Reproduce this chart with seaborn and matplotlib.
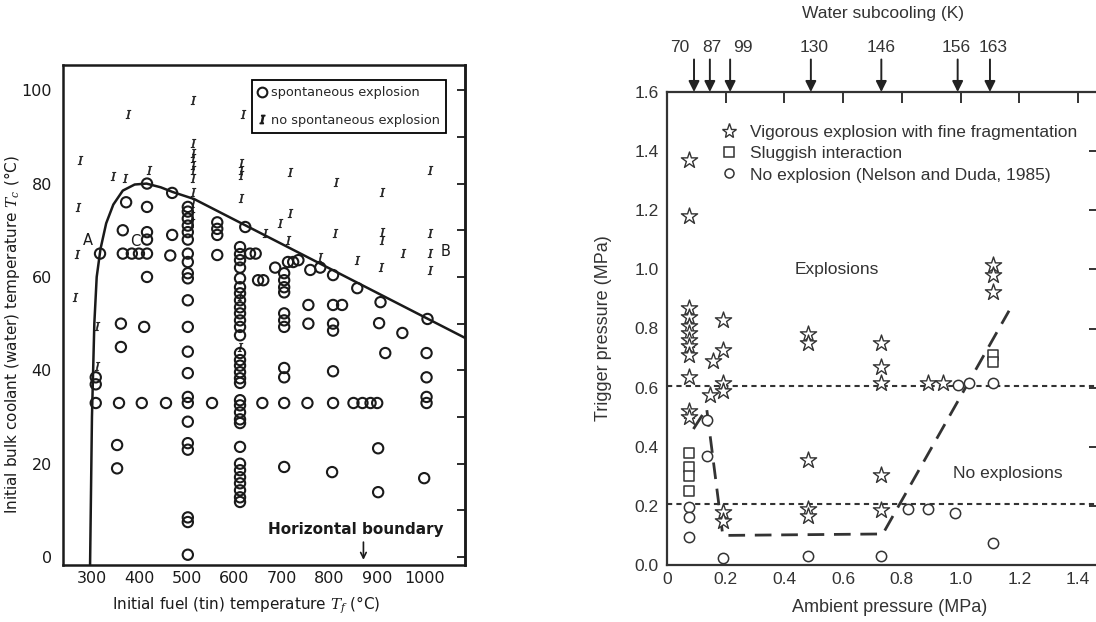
import matplotlib
matplotlib.use("Agg")
import matplotlib.pyplot as plt
import pandas as pd
import seaborn as sns

# ---------------- Left panel: tin drops into water ----------------
# spontaneous explosion (open circles): fuel temperature, coolant temperature
expl_fuel = ([317, 308, 308, 308]
             + [372, 365, 365, 384, 399, 361, 361, 357, 353, 353]
             + [416, 416, 416, 416, 416, 416, 410, 405]
             + [469, 469, 465, 456]
             + [502] * 22
             + [564, 564, 564, 564, 553]
             + [612] * 32 + [623]
             + [633, 645, 650, 661, 686, 659]
             + [713, 724, 735] + [705] * 11
             + [760, 756, 756, 754, 781]
             + [808, 808, 827, 808, 808, 808, 808, 806]
             + [859, 851, 870, 887, 901]
             + [908, 905, 918, 903, 903, 954]
             + [1007, 1005, 1005, 1005, 1005, 1000])
expl_cool = ([65, 38.5, 37, 33]
             + [76, 70, 65, 65, 65, 50, 45, 33, 24, 19]
             + [80, 75, 69.6, 68, 65, 60, 49.3, 33]
             + [78, 69, 64.6, 33]
             + [75, 74, 72.5, 71, 69.6, 68, 65, 63.2, 60.8, 59.7, 55, 49.3, 44, 39.4,
                34.3, 33, 29, 24.4, 23, 8.5, 7.5, 0.5]
             + [71.7, 70.3, 69, 64.7, 33]
             + [66.4, 64.9, 63.6, 62, 59.7, 57.8, 56.5, 55, 53.5, 52.2, 50.7, 49.3, 47.5, 43.7,
                42.2, 41, 39.6, 38.3, 37.3, 33.6, 32.5, 31, 29.5, 28.7, 23.6, 20, 18.6, 17.1,
                15.8, 14.3, 12.8, 11.8] + [70.7]
             + [65, 65, 59.3, 59.3, 62, 33]
             + [63.2, 63.2, 63.6, 60.8, 59.3, 57.8, 56.7, 52.2, 50.7, 49.3, 40.5, 38.5, 33, 19.3]
             + [61.5, 54, 50, 33, 62]
             + [60.4, 54, 54, 50, 48.5, 39.8, 33, 18.2]
             + [57.6, 33, 33, 33, 33]
             + [54.6, 50.1, 43.7, 23.3, 13.9, 48]
             + [51, 43.7, 38.5, 34.3, 33, 16.9])

# no spontaneous explosion
quiet_fuel = [275, 270, 268, 264, 310, 310, 376, 344, 370, 420,
              513, 513, 513, 513, 513, 513, 513, 513, 513, 510, 510,
              619, 614, 614, 614, 614, 612, 612,
              718, 815, 912, 1013, 718, 697, 665, 713, 813, 912, 912, 956,
              1013, 1013, 1013, 859, 908, 781]
quiet_cool = [85, 75, 65, 55.7, 49.5, 41, 95, 81.6, 81.2, 83,
              98, 88.6, 86.5, 85.4, 84, 82.9, 81.2, 78.2, 75.8, 73, 71.5,
              95, 84.4, 83, 81.8, 77, 56, 45,
              82.4, 80.3, 78.2, 82.9, 73.7, 71.5, 69.4, 67.9, 69.4, 69.6, 67.9, 65.1,
              69.4, 65.1, 61.5, 63.6, 62.1, 64.2]

# explosion boundary
bound_fuel = [296, 300, 305, 310, 318, 330, 345, 365, 390, 415, 445, 470, 515, 1085]
bound_cool = [-2, 30, 50, 60, 66, 71.5, 75.5, 78.5, 79.8, 80, 79.2, 78.2, 76.7, 47]

fuel_ticks = [300, 400, 500, 600, 700, 800, 900, 1000]
cool_ticks = [0, 20, 40, 60, 80, 100]

# ---------------- Right panel: trigger vs ambient pressure ----------------
star_p = [0.075] * 12 + [0.155, 0.145] + [0.19] * 6 + [0.48] * 5 + [0.73] * 5 + [0.89, 0.94] + [1.11] * 3
star_t = [1.37, 1.18, 0.87, 0.84, 0.81, 0.785, 0.76, 0.74, 0.71, 0.635, 0.52, 0.50,
          0.69, 0.575,
          0.83, 0.727, 0.615, 0.59, 0.18, 0.15,
          0.78, 0.75, 0.355, 0.19, 0.165,
          0.75, 0.67, 0.615, 0.305, 0.185,
          0.615, 0.615,
          1.015, 0.98, 0.925]
square_p = [0.075, 0.075, 0.075, 0.075, 1.11, 1.11]
square_t = [0.38, 0.33, 0.30, 0.25, 0.71, 0.685]
circle_p = [0.075, 0.075, 0.075, 0.135, 0.135, 0.19, 0.48, 0.73,
            0.82, 0.89, 0.98, 0.99, 1.03, 1.11, 1.11]
circle_t = [0.196, 0.163, 0.095, 0.49, 0.37, 0.025, 0.03, 0.03,
            0.19, 0.19, 0.175, 0.61, 0.615, 0.615, 0.075]

limit_p = [0.09, 0.135, 0.19, 0.735, 1.165]
limit_t = [0.46, 0.53, 0.10, 0.105, 0.86]
guide_levels = [0.605, 0.205]

# subcooling arrows (arrow position, label position, label)
subcool_p = [0.092, 0.146, 0.215, 0.49, 0.73, 0.99, 1.10]
subcool_label_p = [0.044, 0.153, 0.259, 0.50, 0.73, 0.985, 1.11]
subcool_K = ["70", "87", "99", "130", "146", "156", "163"]

p_ticks = [0, 0.2, 0.4, 0.6, 0.8, 1.0, 1.2, 1.4]
p_labels = ["0", "0.2", "0.4", "0.6", "0.8", "1.0", "1.2", "1.4"]
t_ticks = [0.0, 0.2, 0.4, 0.6, 0.8, 1.0, 1.2, 1.4, 1.6]

# ------------------------------------------------------------------
sns.set_style("white")
plt.rcParams["font.family"] = ["DejaVu Sans"]
plt.rcParams["mathtext.fontset"] = "dejavuserif"

fig = plt.figure(figsize=(10.96, 6.22), dpi=100)

# ---- left axes ----
ax1 = fig.add_axes([63 / 1096, 1 - 565 / 622, 402 / 1096, 500 / 622])
ink = "#1a1a1a"

sns.lineplot(x=bound_fuel, y=bound_cool, sort=False, estimator=None, ax=ax1,
             color=ink, lw=1.8)
df_e = pd.DataFrame({"fuel": expl_fuel, "cool": expl_cool})
df_q = pd.DataFrame({"fuel": quiet_fuel, "cool": quiet_cool})
sns.scatterplot(data=df_e, x="fuel", y="cool", ax=ax1, marker="o", s=55,
                facecolor="none", edgecolor=ink, linewidth=1.5, zorder=3)
sns.scatterplot(data=df_q, x="fuel", y="cool", ax=ax1, marker=r"$I$", s=38,
                color=ink, linewidth=0.4, edgecolor=ink, zorder=3)

ax1.set_xlim(239, 1086)
ax1.set_ylim(-1.7, 105.4)
ax1.set_xticks(fuel_ticks)
ax1.set_xticklabels([str(v) for v in fuel_ticks], fontsize=11.5, color=ink)
ax1.set_yticks(cool_ticks)
ax1.set_yticklabels([str(v) for v in cool_ticks], fontsize=11.5, color=ink)
ax1.set_yticks(list(range(10, 100, 20)), minor=True)
ax1.tick_params(axis="y", which="both", direction="out", length=7, width=1.5, color=ink, pad=1)
ax1.tick_params(axis="x", which="major", direction="in", length=3, width=1.2, color=ink, pad=4)
for sp in ax1.spines.values():
    sp.set_color(ink)
    sp.set_linewidth(1.8)
sec = ax1.secondary_yaxis("right")
sec.set_yticks(list(range(0, 101, 10)))
sec.tick_params(direction="in", length=6, width=1.3, color=ink, labelright=False)
sec.spines["right"].set_linewidth(1.8)
sec.spines["right"].set_color(ink)

ax1.set_xlabel("Initial fuel (tin) temperature $T_f$ (°C)", fontsize=11, color=ink, va="center")
ax1.xaxis.set_label_coords((246 - 63) / 402, (565 - 605) / 500)
ax1.set_ylabel("Initial bulk coolant (water) temperature $T_c$ (°C)", fontsize=11, color=ink)
ax1.yaxis.set_label_coords((22 - 63) / 402, 0.46)

ax1.text(292, 67.9, "A", fontsize=10.5, color=ink, ha="center", va="center")
ax1.text(391, 67.5, "C", fontsize=10.5, color=ink, ha="center", va="center")
ax1.text(1045, 65.5, "B", fontsize=10.5, color=ink, ha="center", va="center")
ax1.text(855, 6.0, "Horizontal boundary", fontsize=11, fontweight="bold", color=ink,
         ha="center", va="center")
ax1.annotate("", xy=(872, -0.6), xytext=(872, 3.2),
             arrowprops=dict(arrowstyle="->", color=ink, lw=1.2, shrinkA=0, shrinkB=0))

h_o = plt.Line2D([], [], ls="none", marker="o", ms=7, mfc="none", mec=ink, mew=1.5)
h_i = plt.Line2D([], [], ls="none", marker=r"$I$", ms=6, color=ink)
leg1 = ax1.legend([h_o, h_i], ["spontaneous explosion", "no spontaneous explosion"],
                  loc="upper left", bbox_to_anchor=(0.47, 0.97), fontsize=9.3,
                  frameon=True, fancybox=False, edgecolor="black", framealpha=1,
                  handlelength=0.6, handletextpad=0.35, borderpad=0.5, labelspacing=1.1,
                  borderaxespad=0)
leg1.get_frame().set_linewidth(1.3)

# ---- right axes ----
grey = "#333333"
fs = 12.5
sans = "Liberation Sans"
x0_px, px_per = 667, 293.6
ax2 = fig.add_axes([x0_px / 1096, 1 - 565 / 622, (1100 - x0_px) / 1096, 473 / 622])
for g in guide_levels:
    ax2.axhline(g, color=grey, lw=1.5, ls=(0, (2.5, 2.0)), zorder=1)
sns.lineplot(x=limit_p, y=limit_t, sort=False, estimator=None, ax=ax2,
             color=grey, lw=2.0, ls=(0, (6, 3.5)), zorder=2)

df_s = pd.DataFrame({"p": star_p, "t": star_t})
df_b = pd.DataFrame({"p": square_p, "t": square_t})
df_c = pd.DataFrame({"p": circle_p, "t": circle_t})
sns.scatterplot(data=df_s, x="p", y="t", ax=ax2, marker="*", s=150,
                facecolor="white", edgecolor=grey, linewidth=1.0, zorder=3)
sns.scatterplot(data=df_b, x="p", y="t", ax=ax2, marker="s", s=50,
                facecolor="white", edgecolor=grey, linewidth=1.1, zorder=3)
sns.scatterplot(data=df_c, x="p", y="t", ax=ax2, marker="o", s=55,
                facecolor="white", edgecolor=grey, linewidth=1.1, zorder=3)

ax2.set_xlim(0, (1100 - x0_px) / px_per)
ax2.set_ylim(0, 1.6)
ax2.set_xticks(p_ticks)
ax2.set_xticklabels(p_labels, fontsize=fs, color=grey, family=sans)
ax2.set_yticks(t_ticks)
ax2.set_yticklabels([f"{v:.1f}" for v in t_ticks], fontsize=fs, color=grey, family=sans)
ax2.tick_params(direction="in", length=8, width=1.4, color=grey,
                top=True, right=True, labeltop=False, labelright=False)
ax2.tick_params(axis="x", pad=5)
ax2.tick_params(axis="y", pad=6)
for sp in ax2.spines.values():
    sp.set_color(grey)
    sp.set_linewidth(1.6)

ax2.set_xlabel("Ambient pressure (MPa)", fontsize=13, color=grey, family=sans, va="center")
ax2.xaxis.set_label_coords((890 - x0_px) / 433, (565 - 607) / 473)
ax2.set_ylabel("Trigger pressure (MPa)", fontsize=13, color=grey, family=sans, va="center")
ax2.yaxis.set_label_coords((603 - x0_px) / 433, 0.5)

for p, lp, k in zip(subcool_p, subcool_label_p, subcool_K):
    ax2.annotate("", xy=(p, 1.6), xytext=(p, 1.71), annotation_clip=False,
                 arrowprops=dict(arrowstyle="-|>", color="#222222", lw=1.4,
                                 mutation_scale=16, shrinkA=0, shrinkB=0))
    ax2.text(lp, 1.752, k, ha="center", va="center", fontsize=fs, color=grey,
             family=sans, clip_on=False)
ax2.text(0.735, 1.867, "Water subcooling (K)", ha="center", va="center", fontsize=fs,
         color=grey, family=sans, clip_on=False)

ax2.text(0.58, 1.0, "Explosions", ha="center", va="center", fontsize=fs, color=grey,
         family=sans)
ax2.text(1.16, 0.31, "No explosions", ha="center", va="center", fontsize=fs, color=grey,
         family=sans)

h_s = plt.Line2D([], [], ls="none", marker="*", ms=11, mfc="white", mec=grey, mew=1.0)
h_b = plt.Line2D([], [], ls="none", marker="s", ms=6.5, mfc="white", mec=grey, mew=1.1)
h_c = plt.Line2D([], [], ls="none", marker="o", ms=6.5, mfc="white", mec=grey, mew=1.1)
leg2 = ax2.legend([h_s, h_b, h_c],
                  ["Vigorous explosion with fine fragmentation", "Sluggish interaction",
                   "No explosion (Nelson and Duda, 1985)"],
                  loc="upper left", bbox_to_anchor=(0.108, 0.945), frameon=False,
                  prop={"family": sans, "size": fs},
                  handlelength=1.0, handletextpad=0.7, labelspacing=0.35, borderaxespad=0)
for t in leg2.get_texts():
    t.set_color(grey)

fig.savefig("out.png", dpi=100)
